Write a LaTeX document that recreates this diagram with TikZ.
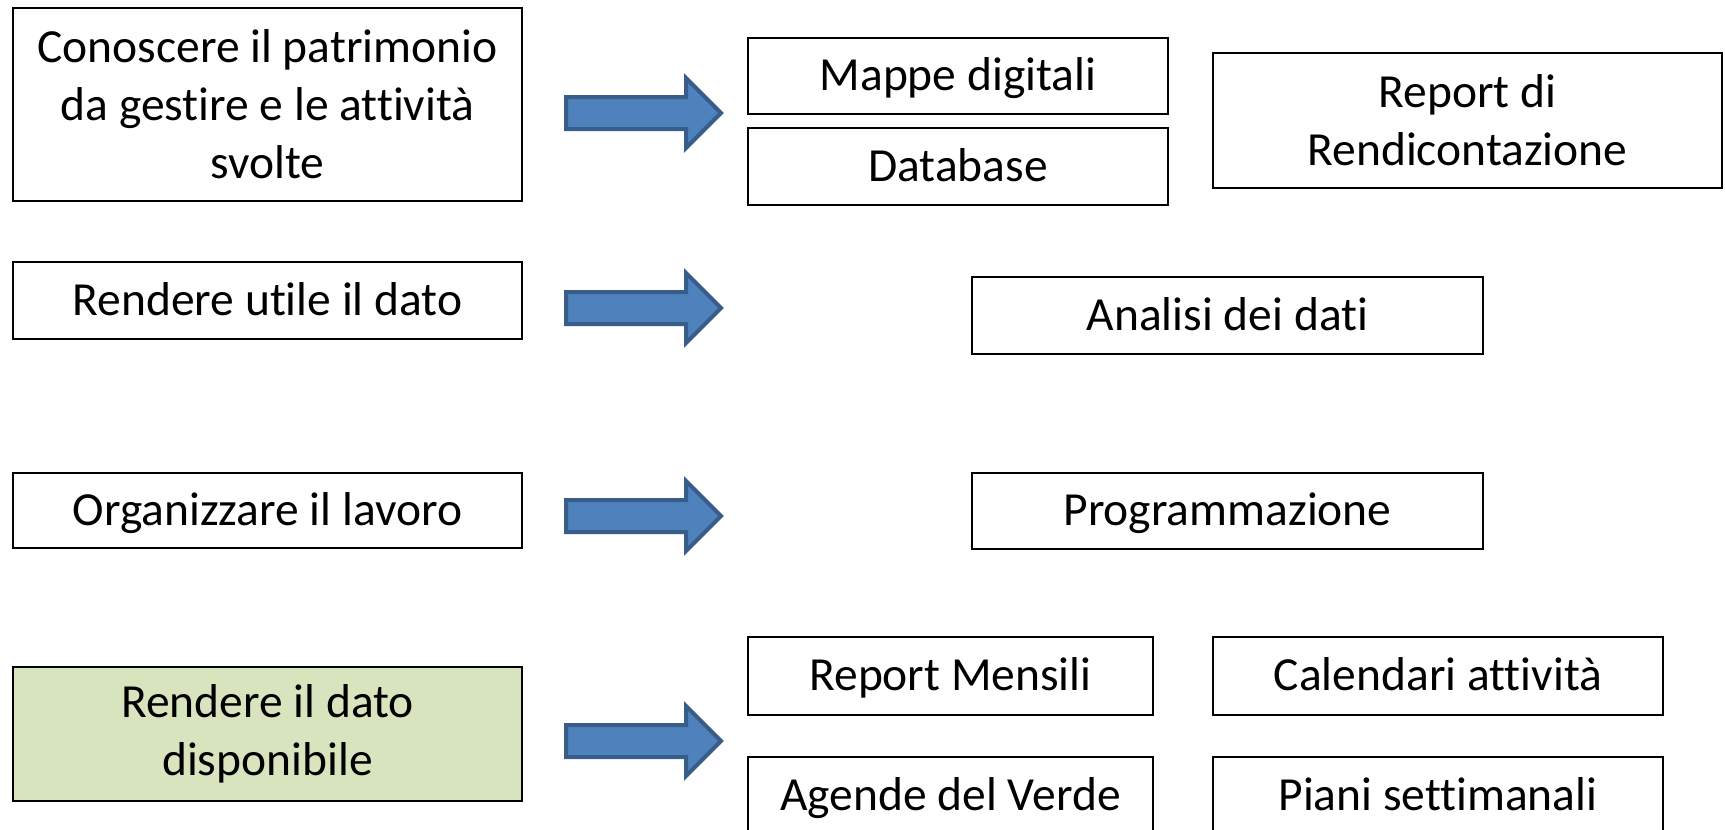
\documentclass[tikz,border=0pt]{standalone}
\usepackage{fontspec}
\setmainfont[Ligatures=NoCommon]{Carlito}
\definecolor{arrowfill}{HTML}{4F81BD}
\definecolor{arrowline}{HTML}{385D8A}
\definecolor{greenfill}{HTML}{D7E4BD}
\tikzset{
  box/.style={draw=black, line width=2pt, fill=white, align=center, inner sep=0pt,
    font=\fontsize{47.5}{58}\selectfont},
  one/.style={text height=38pt, text depth=8.5pt},
  blockarrow/.pic={
    \draw[fill=arrowfill, draw=arrowline, line width=4pt, line join=miter]
      (-75,-16) -- (45,-16) -- (45,-35) -- (80,0) -- (45,35) -- (45,16) -- (-75,16) -- cycle;
  }
}
\begin{document}
\begin{tikzpicture}[x=1pt,y=-1pt]
\useasboundingbox (0,0) rectangle (1725,830);
% left column
\node[box, minimum width=509, minimum height=193] (c1) at (267.5,104.5) {Conoscere il patrimonio\\da gestire e le attività\\svolte};
\node[box, one, minimum width=509, minimum height=77] (c2) at (267.5,300.5) {Rendere utile il dato};
\node[box, one, minimum width=509, minimum height=75] (c3) at (267.5,510.5) {Organizzare il lavoro};
\node[box, fill=greenfill, minimum width=509, minimum height=134] (c4) at (267.5,734) {Rendere il dato\\disponibile};
% right side
\node[box, one, minimum width=420, minimum height=76] (mappe) at (958,76) {Mappe digitali};
\node[box, one, minimum width=420, minimum height=77] (db) at (958,166.5) {Database};
\node[box, minimum width=509, minimum height=135] (rend) at (1467.5,120.5) {Report di\\Rendicontazione};
\node[box, one, minimum width=511, minimum height=77] (anal) at (1227.5,315.5) {Analisi dei dati};
\node[box, one, minimum width=511, minimum height=76] (prog) at (1227.5,511) {Programmazione};
\node[box, one, minimum width=405, minimum height=78] (mens) at (950.5,676) {Report Mensili};
\node[box, one, minimum width=450, minimum height=78] (cal) at (1438,676) {Calendari attività};
\node[box, one, minimum width=405, minimum height=78] (agende) at (950.5,796) {Agende del Verde};
\node[box, one, minimum width=450, minimum height=78] (piani) at (1438,796) {Piani settimanali};
% block arrows
\coordinate (a1) at (641,113);
\coordinate (a2) at (641,308);
\coordinate (a3) at (641,516);
\coordinate (a4) at (641,741);
\pic at (a1) {blockarrow};
\pic at (a2) {blockarrow};
\pic at (a3) {blockarrow};
\pic at (a4) {blockarrow};
\end{tikzpicture}
\end{document}
